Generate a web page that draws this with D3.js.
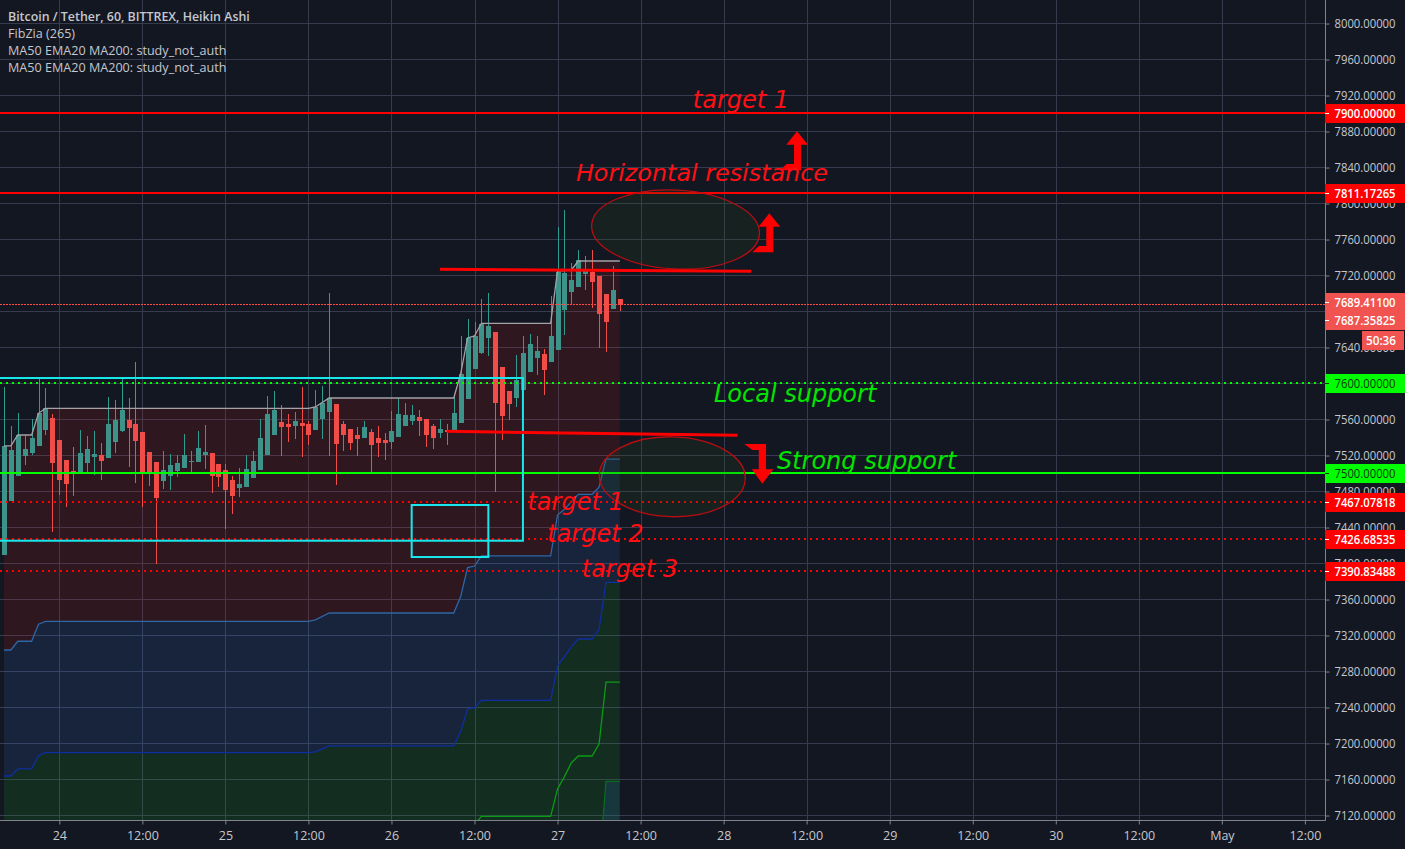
<!DOCTYPE html>
<html><head><meta charset="utf-8">
<script src="https://cdn.jsdelivr.net/npm/d3@7"></script>
<style>html,body{margin:0;padding:0;background:#131722;overflow:hidden}svg{display:block}</style>
</head><body><svg id="c" width="1405" height="849"></svg>
<script>
const legendLines = ["Bitcoin / Tether, 60, BITTREX, Heikin Ashi","FibZia (265)","MA50 EMA20 MA200: study_not_auth","MA50 EMA20 MA200: study_not_auth"];
const opens  = [7409.4,7469.4,7497.2,7519.4,7522.8,7530.6,7548.3,7561.7,7537.2,7515,7502.8,7501,7511.7,7518.3,7520.6,7517.2,7535,7547.2,7559.4,7555,7546.1,7523.9,7512.8,7491.7,7497.2,7502.8,7506.1,7512.8,7512.8,7520.6,7522.8,7510.6,7503.9,7492.8,7483.9,7485,7495,7503.9,7520.6,7542.8,7557.2,7555,7552.8,7556.1,7555,7548.3,7560.6,7568.3,7577.2,7555,7549.4,7542.8,7539.4,7546.1,7539.4,7537.2,7535,7540.6,7552.8,7558.3,7562.8,7560.6,7552.8,7545,7548.3,7547.2,7556.1,7582.8,7616.1,7633.9,7650.6,7657.2,7618.3,7591.7,7583.9,7592.8,7612.8,7628.3,7632.8,7623.9,7637.2,7681.7,7701.7,7707.2,7721.7,7723.9,7719.4,7699.4,7682.8,7693.9];
const highs  = [7596.5,7552.8,7566.9,7542.8,7560.6,7605,7595,7566.1,7537.2,7515,7529.4,7548.3,7541.7,7547.2,7533.9,7585,7581.7,7605,7583.9,7623.9,7546.1,7523.9,7512.8,7525,7521.7,7520.6,7543.9,7525,7547.2,7553.9,7522.8,7510.6,7510.6,7497.2,7506.1,7520.6,7525,7560.6,7586.1,7591.7,7576.1,7566.1,7568.3,7596.1,7558.3,7592.8,7597.2,7700.6,7577.2,7558.3,7549.4,7551.7,7558.3,7549.4,7552.8,7545,7569.4,7583.9,7578.3,7576.1,7570.6,7560.6,7555,7560.6,7555,7585,7652.8,7671.7,7668.3,7693.9,7700.6,7657.2,7618.3,7591.7,7631.7,7652.8,7655,7652.8,7638.3,7697.2,7773.9,7792.8,7733.9,7748.3,7741.7,7748.3,7719.4,7699.4,7730.6,7693.9];
const lows   = [7409.4,7469.4,7497.2,7509.4,7520.6,7530.6,7542.8,7435,7476.1,7462.8,7475,7501,7501,7498.3,7492.8,7517.2,7522.8,7546.1,7507.2,7489.4,7462.8,7486.1,7399.4,7482.8,7481.7,7496.1,7506.1,7501.7,7512.8,7505,7478.3,7485,7438.3,7455,7473.9,7485,7495,7503.9,7520.6,7542.8,7519.4,7535,7538.3,7518.3,7531.7,7548.3,7538.3,7519.4,7487.2,7525,7526.1,7519.4,7539.4,7501.7,7518.3,7515,7527.2,7540.6,7552.8,7553.9,7541.7,7529.4,7527.2,7539.4,7531.7,7547.2,7556.1,7582.8,7616.1,7632.8,7630.6,7479.4,7537.2,7559.4,7573.9,7592.8,7612.8,7609.4,7587.2,7623.9,7637.2,7653.9,7688.3,7707.2,7703.9,7683.9,7639.4,7635,7682.8,7680.6];
const closes = [7530.6,7526.1,7542.8,7527.2,7539.4,7567.2,7572.4,7511.7,7492.8,7488.3,7501.7,7522.8,7527.2,7521.7,7513.9,7555,7559.4,7570.6,7550.6,7536.1,7501,7500.6,7472.8,7503.9,7509.4,7511.7,7520.6,7513.9,7528.3,7523.9,7497.2,7496.1,7481.7,7475,7488.3,7505,7513.9,7539.4,7566.1,7570.6,7551.7,7551.7,7558.3,7552.8,7542.8,7573.9,7578.3,7583.9,7532.8,7542.8,7533.9,7538.3,7551.7,7531.7,7533.9,7533.9,7547.2,7566.1,7565,7565,7558.3,7542.8,7539.4,7549.4,7546.1,7567.2,7610.6,7650.6,7652.8,7666.1,7663.9,7578.3,7563.9,7577.2,7603.9,7633.9,7643.9,7636.1,7615,7652.8,7723.9,7722.8,7715,7737.2,7726.1,7712.8,7677.2,7668.3,7704,7687.2];

const levelIdx = [0,1,2,4,5,6,44,45,47,65,66,67,68,69,79,80,81,82,83,85,86,87,89];
const fibTop   = [7530.6,7530.6,7542.8,7542.8,7566.9,7572.4,7572.4,7573.9,7583.9,7583.9,7610.6,7650.6,7652.8,7666.9,7666.9,7725,7725.5,7726.1,7736.1,7736.1,7736.1,7736.1,7736.1];
const fibMid   = [7303.9,7303.9,7313.6,7313.6,7332.5,7335.8,7335.8,7337.3,7345,7345,7363.2,7395.4,7397.2,7408.4,7408.4,7453.9,7460.2,7468.7,7476.9,7476.9,7484.7,7516,7516];
const fibLow   = [7163.9,7163.9,7171.7,7171.7,7186.5,7189.9,7189.9,7190.6,7197.3,7197.3,7213.2,7238.4,7239.5,7248,7248,7286.1,7296.5,7307.6,7316.1,7316.1,7326.9,7379.1,7379.1];
const fib4Idx  = [67,68,69,79,80,81,82,83,85,86,87,89];
const fib4     = [7100,7110,7119,7119,7149.5,7163.2,7178.7,7186.1,7186.1,7199.5,7268.3,7268.3];
const fib5Idx  = [86,87,89];
const fib5     = [7060,7157.9,7157.9];

const timeIdx    = [8,20,32,44,56,68,80,92,104,116,128,140,152,164,176,188];
const timeLabels = ["24","12:00","25","12:00","26","12:00","27","12:00","28","12:00","29","12:00","30","12:00","May","12:00"];
const priceTicks = d3.range(7120,8001,40);
const hiddenPriceLabels = [7680,7600,7500];

const solidRed    = [7900,7811.17265];
const dottedRed   = [7467.07818,7426.68535,7390.83488];
const lastPrice   = 7689.411, lastClose = 7687.35825, countdown = "50:36";
const localSup = 7600, strongSup = 7500;

const noteText  = ["target 1","Horizontal resistance","target 1","target 2","target 3"];
const noteI     = [99.55,82.65,75.65,78.5,83.5];
const noteP     = [7906.5,7824.5,7460,7424.3,7385.5];
const greenText = ["Local support","Strong support"];
const greenI    = [102.6,111.7];
const greenP    = [7579,7504.5];

const trendA = [[63,7726.9],[108,7724.7]];
const trendB = [[64,7546.9],[106,7542.4]];
const rectA  = [-5,75,7606.1,7425.3];
const rectB  = [58.92,70,7465,7407.2];
const ellA   = [97.05,7771.1,12.14,43.9,3];
const ellB   = [96.58,7496.4,10.55,44.4,1.5];
const arrowUpDI = [0,1.59,.578,.578,-2.457,-1.488,-.434,-.434,-1.546];
const arrowUpDP = [0,-14.9,-14.9,-43.3,-43.3,-36.3,-36.3,-14.9,-14.9];
const arrowUpTips = [[114.6,7880.2],[110.6,7789.1]];
const arrowDnDI = [0,1.59,.535,.535,-2.6,-1.445,-.52,-.52,-1.53];
const arrowDnDP = [0,16,16,44.1,44.1,37.4,37.4,16,16];
const arrowDnTip = [109.6,7488.7];

const W=1405,H=849,PR=1325,PB=820,LABEL_W=61;
const x=d3.scaleLinear().domain([0,100]).range([3.94,695.94]);
const y=d3.scaleLinear().domain([8000,7120]).range([23.5,815.5]);
const snap=v=>Math.round(y(v)-.7);
const FONT='"Open Sans",sans-serif';
const svg=d3.select("#c");
svg.append("defs").append("clipPath").attr("id","pane").append("rect").attr("width",PR).attr("height",PB);
const g=svg.append("g").attr("clip-path","url(#pane)");
const GRID="#363c4e";

// grid
g.append("g").selectAll("line").data(priceTicks).join("line").attr("x1",0).attr("x2",PR)
 .attr("y1",d=>Math.floor(y(d))+.5).attr("y2",d=>Math.floor(y(d))+.5).attr("stroke",GRID);
g.append("g").selectAll("line").data(timeIdx).join("line").attr("y1",0).attr("y2",PB)
 .attr("x1",d=>Math.round(x(d))+.5).attr("x2",d=>Math.round(x(d))+.5).attr("stroke",GRID);

// fib zones
const pts=(idx,v)=>idx.map((i,k)=>[i,v[k]]);
const band=(a,b,fill)=>g.append("path").attr("fill",fill).attr("d",d3.area().x((d,k)=>x(levelIdx[k])).y0((d,k)=>y(b[k])).y1((d,k)=>y(a[k]))(a));
band(fibTop,fibMid,"rgba(199,30,21,.15)");
band(fibMid,fibLow,"rgba(46,116,214,.15)");
const bottom=levelIdx.map(()=>7100);
band(fibLow,bottom,"rgba(19,176,34,.15)");
g.append("path").attr("fill","rgba(46,116,214,.15)").attr("d",d3.area().x(d=>x(d[0])).y0(y(7100)).y1(d=>y(d[1]))(pts(fib5Idx,fib5)));

const ln=d3.line().x(d=>x(d[0])).y(d=>y(d[1]));
// candles
const cg=g.append("g");
closes.forEach((c,i)=>{
  const up=c>=opens[i], col=up?"#3d9389":"#f24c48";
  const px=Math.round(x(i))+.5;
  cg.append("line").attr("x1",px).attr("x2",px).attr("y1",Math.round(y(highs[i]))).attr("y2",Math.round(y(lows[i]))).attr("stroke",up?"#2f9c90":"#f24c48");
  const t=Math.round(y(Math.max(c,opens[i]))),b=Math.round(y(Math.min(c,opens[i])));
  cg.append("rect").attr("x",px-2.5).attr("width",5).attr("y",t).attr("height",Math.max(1,b-t)).attr("fill",col);
});
// fib lines
const fl=(p,c,w)=>g.append("path").attr("fill","none").attr("stroke",c).attr("stroke-width",w).attr("d",ln(p));
fl(pts(levelIdx,fibTop),"#a3a3a8",1.3);
fl(pts(levelIdx,fibMid),"#2f66a6",1.3);
fl(pts(levelIdx,fibLow),"#0f2fa0",1.3);
fl(pts(fib4Idx,fib4),"#0a9c12",1.3);
fl(pts(fib5Idx,fib5),"#0a6a22",1.3);

// price lines
const hl=(v,c,w,dash)=>{const p=snap(v);return g.append("line").attr("x1",0).attr("x2",PR).attr("y1",p).attr("y2",p).attr("stroke",c).attr("stroke-width",w).attr("stroke-dasharray",dash||null);};
g.append("line").attr("x1",0).attr("x2",PR).attr("y1",Math.floor(y(lastClose))+.5).attr("y2",Math.floor(y(lastClose))+.5).attr("stroke","#ff4a45").attr("stroke-dasharray","2,1");
solidRed.forEach(v=>hl(v,"#ff0000",2));
dottedRed.forEach(v=>hl(v,"#ff0000",2,"2,4"));
hl(localSup,"#00ff00",2,"2,4");
hl(strongSup,"#00ff00",2);

// cyan rectangles
[rectA,rectB].forEach(r=>g.append("rect").attr("x",x(r[0])).attr("width",x(r[1])-x(r[0])).attr("y",y(r[2])).attr("height",y(r[3])-y(r[2])).attr("fill","none").attr("stroke","#18e8ec").attr("stroke-width",2));

// ellipses
[ellA,ellB].forEach(e=>g.append("ellipse").attr("cx",x(e[0])).attr("cy",y(e[1])).attr("rx",x(e[2])-x(0)).attr("ry",y(8000-e[3])-y(8000))
  .attr("transform",`rotate(${e[4]} ${x(e[0])} ${y(e[1])})`).attr("fill","rgba(40,78,24,.2)").attr("stroke","#b80d12").attr("stroke-width",1.3));

// trend lines
[trendA,trendB].forEach(t=>g.append("path").attr("d",ln(t)).attr("stroke","#ff0000").attr("stroke-width",3).attr("fill","none"));
// arrows
arrowUpTips.forEach(t=>g.append("path").attr("fill","#ff0000").attr("d",ln(arrowUpDI.map((d,k)=>[t[0]+d,t[1]+arrowUpDP[k]]))+"Z"));
g.append("path").attr("fill","#ff0000").attr("d",ln(arrowDnDI.map((d,k)=>[arrowDnTip[0]+d,arrowDnTip[1]+arrowDnDP[k]]))+"Z");

// notes
const note=(t,i,p,c,s)=>g.append("text").attr("x",x(i)).attr("y",y(p)).attr("fill",c).attr("font-family","DejaVu Sans").attr("font-style","italic").attr("font-size",s).text(t);
noteText.forEach((t,k)=>note(t,noteI[k],noteP[k],"#ff0f14",k==1?23.85:24));
greenText.forEach((t,k)=>note(t,greenI[k],greenP[k],"#00e600",24));

// legend
const lg=svg.append("g").attr("font-family",FONT).attr("fill","#c5c8ce");
legendLines.forEach((t,k)=>lg.append("text").attr("x",8).attr("y",21+17*k).attr("font-size",k?12.6:12.4).attr("font-weight",k?400:600).text(t));

// axes
const ay=svg.append("g").attr("transform",`translate(${PR}.5,0)`).call(d3.axisRight(y).tickValues(priceTicks).tickSize(4).tickPadding(5).tickFormat(d=>hiddenPriceLabels.includes(d)?"":d.toFixed(5)));
const ax=svg.append("g").attr("transform",`translate(0,${PB}.5)`).call(d3.axisBottom(x).tickValues(timeIdx).tickSize(4).tickPadding(7).tickFormat((d,k)=>timeLabels[k]));
[ay,ax].forEach(a=>{a.selectAll("path.domain").attr("stroke","#7f838c").attr("d",null);
  a.selectAll("line").attr("stroke","#7f838c");
  a.selectAll("text").attr("fill","#c5c8ce").attr("font-family",FONT).attr("font-size",12.5).attr("font-weight",500);});
ay.selectAll("text").filter(d=>!hiddenPriceLabels.includes(d)).attr("textLength",LABEL_W).attr("lengthAdjust","spacingAndGlyphs");
svg.append("line").attr("x1",PR+.5).attr("x2",PR+.5).attr("y1",0).attr("y2",PB+.5).attr("stroke","#7f838c");
svg.append("line").attr("x1",0).attr("x2",PR+.5).attr("y1",PB+.5).attr("y2",PB+.5).attr("stroke","#7f838c");

// price labels
const tag=(v,bg,fg,cy,wt)=>{
  const yy=cy===undefined?snap(v):cy;
  svg.append("rect").attr("x",PR).attr("width",W-PR).attr("y",yy-9).attr("height",19).attr("fill",bg);
  svg.append("line").attr("x1",PR).attr("x2",PR+4).attr("y1",yy+.5).attr("y2",yy+.5).attr("stroke",fg);
  svg.append("text").attr("x",PR+9.5).attr("y",yy+.5).attr("dy","0.35em").attr("fill",fg).attr("font-family",FONT).attr("font-size",12.5).attr("font-weight",wt||600).attr("textLength",LABEL_W).attr("lengthAdjust","spacingAndGlyphs").text(v.toFixed(5));
};
solidRed.forEach(v=>tag(v,"#ff0000","#ffffff"));
const lastY=Math.floor(y(lastPrice))-1;
tag(lastPrice,"#f05350","#ffffff",lastY);
tag(lastClose,"#f05350","#ffffff",lastY+18);
tag(localSup,"#00ff00","#0c3a0c",undefined,500);
tag(strongSup,"#00ff00","#0c3a0c",undefined,500);
dottedRed.forEach(v=>tag(v,"#ff0000","#ffffff"));
const cdY=lastY+29;
svg.append("rect").attr("x",1362).attr("width",42).attr("y",cdY).attr("height",19).attr("fill","#f05350");
svg.append("text").attr("x",1381).attr("y",cdY+9.5).attr("dy","0.35em").attr("text-anchor","middle").attr("fill","#fff").attr("font-family",FONT).attr("font-size",12.5).attr("font-weight",600).attr("textLength",30).attr("lengthAdjust","spacingAndGlyphs").text(countdown);
</script></body></html>
